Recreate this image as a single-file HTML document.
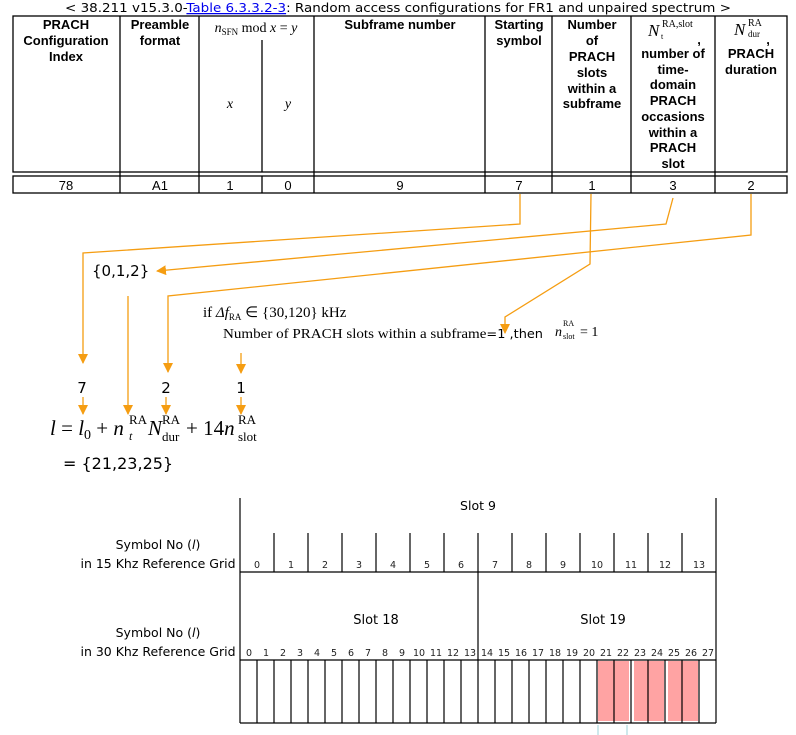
<!DOCTYPE html>
<html><head><meta charset="utf-8"><style>
html,body{margin:0;padding:0;background:#fff;}
svg{display:block;}
.h{font-family:"Liberation Sans",Arial,sans-serif;font-weight:bold;font-size:13px;fill:#000;text-anchor:middle;}
.v{font-family:"Liberation Sans",Arial,sans-serif;font-size:13px;fill:#000;text-anchor:middle;}
.s{font-family:"Liberation Serif",serif;fill:#000;}
.d{font-family:"DejaVu Sans",sans-serif;fill:#000;}
.n{font-family:"DejaVu Sans",sans-serif;font-size:9.5px;fill:#222;text-anchor:middle;}
</style></head><body>
<svg width="796" height="735" viewBox="0 0 796 735" xmlns="http://www.w3.org/2000/svg">
<defs>
<marker id="a" markerWidth="10" markerHeight="10" refX="9" refY="5" orient="auto" markerUnits="userSpaceOnUse" viewBox="0 0 10 10">
<path d="M0,0 L10,5 L0,10 z" fill="#f59d12"/>
</marker>
</defs>
<text x="398" y="12" class="d" font-size="12.5" text-anchor="middle" textLength="666" lengthAdjust="spacingAndGlyphs">&lt; 38.211 v15.3.0-<tspan fill="#0000ee" text-decoration="underline">Table 6.3.3.2-3</tspan>: Random access configurations for FR1 and unpaired spectrum &gt;</text>
<g stroke="#000" stroke-width="1.3" fill="none">
<rect x="13" y="16" width="774" height="156"/>
<rect x="13" y="176" width="774" height="17"/>
<path d="M120,16V193 M199,16V193 M262,40V172 M262,176V193 M314,16V193 M485,16V193 M552,16V193 M631,16V193 M715,16V193"/>
</g>
<text class="h" x="66" y="29">PRACH</text><text class="h" x="66" y="45">Configuration</text><text class="h" x="66" y="61">Index</text>
<text class="h" x="160" y="29">Preamble</text><text class="h" x="160" y="45">format</text>
<text class="s" x="256" y="32" font-size="14" text-anchor="middle"><tspan font-style="italic">n</tspan><tspan font-size="9" dy="3">SFN</tspan><tspan dy="-3"> mod </tspan><tspan font-style="italic">x</tspan> = <tspan font-style="italic">y</tspan></text>
<text class="s" x="230" y="108" font-size="14" font-style="italic" text-anchor="middle">x</text>
<text class="s" x="288" y="108" font-size="14" font-style="italic" text-anchor="middle">y</text>
<text class="h" x="400" y="29">Subframe number</text>
<text class="h" x="519" y="29">Starting</text><text class="h" x="519" y="45">symbol</text>
<text class="h" x="592" y="29">Number</text><text class="h" x="592" y="45">of</text><text class="h" x="592" y="61">PRACH</text><text class="h" x="592" y="77">slots</text><text class="h" x="592" y="93">within a</text><text class="h" x="592" y="108">subframe</text>
<text class="s" x="648" y="36" font-size="17" font-style="italic">N</text>
<text class="s" x="662" y="27" font-size="10">RA,slot</text>
<text class="s" x="661" y="39" font-size="8">t</text>
<text class="h" x="699" y="44">,</text>
<text class="h" x="673" y="58">number of</text><text class="h" x="673" y="74">time-</text><text class="h" x="673" y="89">domain</text><text class="h" x="673" y="105">PRACH</text><text class="h" x="673" y="121">occasions</text><text class="h" x="673" y="137">within a</text><text class="h" x="673" y="152">PRACH</text><text class="h" x="673" y="168">slot</text>
<text class="s" x="734" y="35" font-size="17" font-style="italic">N</text>
<text class="s" x="748" y="26" font-size="10">RA</text>
<text class="s" x="748" y="37" font-size="9">dur</text>
<text class="h" x="768" y="44">,</text>
<text class="h" x="751" y="58">PRACH</text><text class="h" x="751" y="74">duration</text>
<text class="v" x="66" y="190">78</text><text class="v" x="160" y="190">A1</text><text class="v" x="230" y="190">1</text><text class="v" x="288" y="190">0</text><text class="v" x="400" y="190">9</text><text class="v" x="519" y="190">7</text><text class="v" x="592" y="190">1</text><text class="v" x="673" y="190">3</text><text class="v" x="751" y="190">2</text>
<g stroke="#f59d12" stroke-width="1.3" fill="none">
<polyline points="520,194 520,224 83,253 83,363" marker-end="url(#a)"/>
<polyline points="673,198 666,224 157,271" marker-end="url(#a)"/>
<polyline points="751,194 751,235 168,296 168,372" marker-end="url(#a)"/>
<polyline points="591,194 590,264 505,317 505,333" marker-end="url(#a)"/>
<polyline points="128,296 128,414" marker-end="url(#a)"/>
<polyline points="241,353 241,373" marker-end="url(#a)"/>
<polyline points="83,397 83,414" marker-end="url(#a)"/>
<polyline points="166,397 166,414" marker-end="url(#a)"/>
<polyline points="241,397 241,414" marker-end="url(#a)"/>
</g>
<text class="d" x="92" y="276" font-size="15">{0,1,2}</text>
<text class="s" x="203" y="317" font-size="15">if <tspan font-style="italic">Δf</tspan><tspan font-size="9" dy="3">RA</tspan><tspan dy="-3"> ∈ {30,120} kHz</tspan></text>
<text class="s" x="223" y="338" font-size="14" textLength="320" lengthAdjust="spacingAndGlyphs">Number of PRACH slots within a subframe<tspan font-family="DejaVu Sans" font-size="12">=1 ,then</tspan></text>
<text class="s" x="555" y="336" font-size="14" font-style="italic">n</text>
<text class="s" x="563" y="326" font-size="8">RA</text><text class="s" x="563" y="339" font-size="8">slot</text>
<text class="s" x="580" y="336" font-size="14">= 1</text>
<text class="d" x="82" y="393" font-size="15" text-anchor="middle">7</text>
<text class="d" x="166" y="393" font-size="15" text-anchor="middle">2</text>
<text class="d" x="241" y="393" font-size="15" text-anchor="middle">1</text>
<text class="s" x="50" y="435" font-size="21"><tspan font-style="italic">l</tspan> = <tspan font-style="italic">l</tspan><tspan font-size="14" dy="4">0</tspan><tspan dy="-4"> + </tspan><tspan font-style="italic">n</tspan></text>
<text class="s" x="129" y="424" font-size="13">RA</text>
<text class="s" x="129" y="440" font-size="12" font-style="italic">t</text>
<text class="s" x="148" y="435" font-size="21" font-style="italic">N</text>
<text class="s" x="162" y="424" font-size="13">RA</text>
<text class="s" x="162" y="441" font-size="13">dur</text>
<text class="s" x="186" y="435" font-size="21">+ 14<tspan font-style="italic">n</tspan></text>
<text class="s" x="238" y="424" font-size="13">RA</text>
<text class="s" x="238" y="441" font-size="13">slot</text>
<text class="d" x="63" y="469" font-size="16">= {21,23,25}</text>
<text class="d" x="158" y="549" font-size="12.5" text-anchor="middle">Symbol No (<tspan font-style="italic">l</tspan>)</text>
<text class="d" x="158" y="568" font-size="12.5" text-anchor="middle">in 15 Khz Reference Grid</text>
<text class="d" x="158" y="637" font-size="12.5" text-anchor="middle">Symbol No (<tspan font-style="italic">l</tspan>)</text>
<text class="d" x="158" y="656" font-size="12.5" text-anchor="middle">in 30 Khz Reference Grid</text>
<rect x="598" y="661" width="31" height="60" fill="#ffa3a3"/>
<rect x="634" y="661" width="30" height="60" fill="#ffa3a3"/>
<rect x="668" y="661" width="30" height="60" fill="#ffa3a3"/>
<g stroke="#000" stroke-width="1.2" fill="none">
<path d="M240,498V723 M240,572H716 M240,660H716 M240,723H716 M716,498V723 M478,572V723"/>
<path d="M274,533V572 M308,533V572 M342,533V572 M376,533V572 M410,533V572 M444,533V572 M478,533V572 M512,533V572 M546,533V572 M580,533V572 M614,533V572 M648,533V572 M682,533V572"/>
<path d="M257,660V723 M274,660V723 M291,660V723 M308,660V723 M325,660V723 M342,660V723 M359,660V723 M376,660V723 M393,660V723 M410,660V723 M427,660V723 M444,660V723 M461,660V723 M495,660V723 M512,660V723 M529,660V723 M546,660V723 M563,660V723 M580,660V723 M597,660V723 M614,660V723 M631,660V723 M648,660V723 M665,660V723 M682,660V723 M699,660V723"/>
</g>
<path d="M598,725V735 M627,725V735" stroke="#9dd3d8" stroke-width="1"/>
<text class="d" x="478" y="510" font-size="12.5" text-anchor="middle">Slot 9</text>
<text class="d" x="376" y="624" font-size="13" text-anchor="middle">Slot 18</text>
<text class="d" x="603" y="624" font-size="13" text-anchor="middle">Slot 19</text>
<g class="n">
<text x="257" y="568">0</text><text x="291" y="568">1</text><text x="325" y="568">2</text><text x="359" y="568">3</text><text x="393" y="568">4</text><text x="427" y="568">5</text><text x="461" y="568">6</text><text x="495" y="568">7</text><text x="529" y="568">8</text><text x="563" y="568">9</text><text x="597" y="568">10</text><text x="631" y="568">11</text><text x="665" y="568">12</text><text x="699" y="568">13</text>
<text x="249" y="656">0</text><text x="266" y="656">1</text><text x="283" y="656">2</text><text x="300" y="656">3</text><text x="317" y="656">4</text><text x="334" y="656">5</text><text x="351" y="656">6</text><text x="368" y="656">7</text><text x="385" y="656">8</text><text x="402" y="656">9</text><text x="419" y="656">10</text><text x="436" y="656">11</text><text x="453" y="656">12</text><text x="470" y="656">13</text><text x="487" y="656">14</text><text x="504" y="656">15</text><text x="521" y="656">16</text><text x="538" y="656">17</text><text x="555" y="656">18</text><text x="572" y="656">19</text><text x="589" y="656">20</text><text x="606" y="656">21</text><text x="623" y="656">22</text><text x="640" y="656">23</text><text x="657" y="656">24</text><text x="674" y="656">25</text><text x="691" y="656">26</text><text x="708" y="656">27</text>
</g>
</svg>
</body></html>
